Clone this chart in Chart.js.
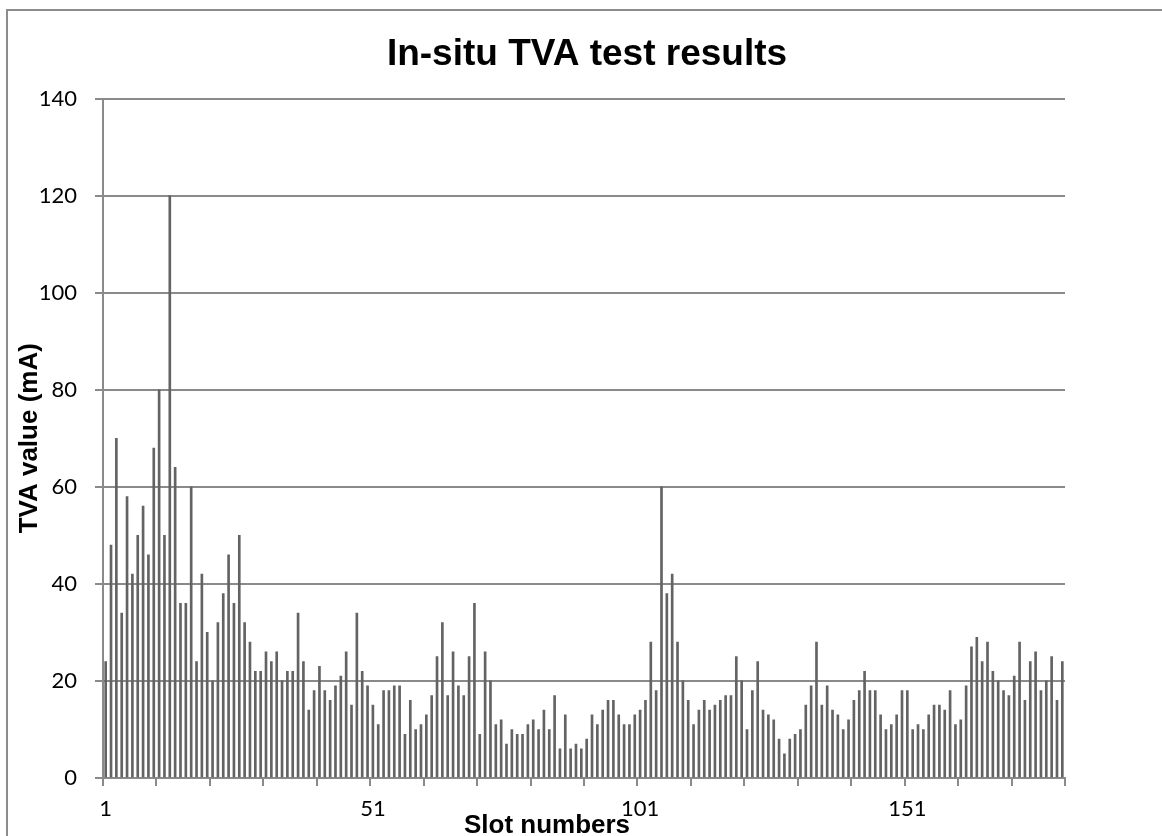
<!DOCTYPE html>
<html>
<head>
<meta charset="utf-8">
<title>In-situ TVA test results</title>
<script src="https://cdn.jsdelivr.net/npm/chart.js@4"></script>
<style>
    html, body { margin: 0; padding: 0; background: #fff; overflow: hidden; }
    #wrap { position: relative; width: 1162px; height: 836px; }
    #frame {
        position: absolute; left: 6px; top: 9px;
        width: 1300px; height: 1000px;
        border: 2px solid #8c8c8c;
    }
    #tvaChart { position: absolute; left: 0; top: 0; }
</style>
</head>
<body>
<div id="wrap">
    <div id="frame"></div>
    <canvas id="tvaChart" width="1162" height="836"></canvas>
</div>
<script>
// slot numbers 1..180
const slotLabels = [];
for (let i = 1; i <= 180; i++) slotLabels.push(String(i));

// x labels that are actually printed
const shownSlotLabels = ['1', '51', '101', '151'];

// TVA value (mA) per slot
const tvaValues = [
    24, 48, 70, 34, 58, 42, 50, 56, 46, 68, 80, 50, 120, 64, 36, 36, 60, 24, 42, 30,
    20, 32, 38, 46, 36, 50, 32, 28, 22, 22, 26, 24, 26, 20, 22, 22, 34, 24, 14, 18,
    23, 18, 16, 19, 21, 26, 15, 34, 22, 19, 15, 11, 18, 18, 19, 19, 9, 16, 10, 11,
    13, 17, 25, 32, 17, 26, 19, 17, 25, 36, 9, 26, 20, 11, 12, 7, 10, 9, 9, 11,
    12, 10, 14, 10, 17, 6, 13, 6, 7, 6, 8, 13, 11, 14, 16, 16, 13, 11, 11, 13,
    14, 16, 28, 18, 60, 38, 42, 28, 20, 16, 11, 14, 16, 14, 15, 16, 17, 17, 25, 20,
    10, 18, 24, 14, 13, 12, 8, 5, 8, 9, 10, 15, 19, 28, 15, 19, 14, 13, 10, 12,
    16, 18, 22, 18, 18, 13, 10, 11, 13, 18, 18, 10, 11, 10, 13, 15, 15, 14, 18, 11,
    12, 19, 27, 29, 24, 28, 22, 20, 18, 17, 21, 28, 16, 24, 26, 18, 20, 25, 16, 24
];

// y axis ticks
const yTicks = { min: 0, max: 140, step: 20 };

const GRID_COLOR = '#8a8a8a';
const BAR_COLOR = '#636363';
const TITLE_FONT = 'Liberation Sans, Arial, sans-serif';
const TICK_FONT = 'Lato, Calibri, sans-serif';

// chart title and x axis title are placed like in the original (not centred on the plot)
const titlesPlugin = {
    id: 'titles',
    afterDraw(chart) {
        const ctx = chart.ctx;
        ctx.save();
        ctx.fillStyle = '#000';
        ctx.textAlign = 'center';
        ctx.textBaseline = 'alphabetic';
        ctx.font = 'bold 37px ' + TITLE_FONT;
        ctx.fillText('In-situ TVA test results', 587, 65);
        ctx.font = 'bold 26px ' + TITLE_FONT;
        ctx.fillText('Slot numbers', 547, 833);
        ctx.restore();
    }
};

new Chart(document.getElementById('tvaChart'), {
    type: 'bar',
    data: {
        labels: slotLabels,
        datasets: [{
            label: 'TVA value',
            data: tvaValues,
            backgroundColor: BAR_COLOR,
            borderWidth: 0,
            barThickness: 2
        }]
    },
    plugins: [titlesPlugin],
    options: {
        responsive: false,
        animation: false,
        layout: {
            padding: { left: 0, right: 97, top: 98.5, bottom: 0 }
        },
        plugins: {
            legend: { display: false },
            tooltip: { enabled: false },
            title: { display: false }
        },
        scales: {
            x: {
                offset: true,
                grid: {
                    offset: true,
                    drawOnChartArea: false,
                    drawTicks: true,
                    tickLength: 8,
                    lineWidth: 2,
                    // tick marks every 10 slots
                    color: (c) => (c.index === undefined || c.index % 10 === 0) ? GRID_COLOR : 'rgba(0,0,0,0)'
                },
                border: { display: true, color: GRID_COLOR, width: 2 },
                ticks: {
                    autoSkip: false,
                    maxRotation: 0,
                    minRotation: 0,
                    padding: 10,
                    color: '#000',
                    font: { family: TICK_FONT, size: 22 },
                    callback: function(value) {
                        const lbl = this.getLabelForValue(value);
                        return shownSlotLabels.includes(lbl) ? lbl : '';
                    }
                },
                afterFit(scale) { scale.height = 58; }
            },
            y: {
                min: yTicks.min,
                max: yTicks.max,
                grid: {
                    color: GRID_COLOR,
                    lineWidth: 2,
                    tickLength: 8
                },
                border: { display: true, color: GRID_COLOR, width: 2 },
                ticks: {
                    stepSize: yTicks.step,
                    padding: 18,
                    color: '#000',
                    font: { family: TICK_FONT, size: 22 }
                },
                title: {
                    display: true,
                    text: 'TVA value (mA)',
                    color: '#000',
                    font: { family: TITLE_FONT, size: 26, weight: 'bold' },
                    padding: { top: 14, bottom: 0 }
                },
                afterFit(scale) { scale.width = 103; }
            }
        }
    }
});
</script>
</body>
</html>
